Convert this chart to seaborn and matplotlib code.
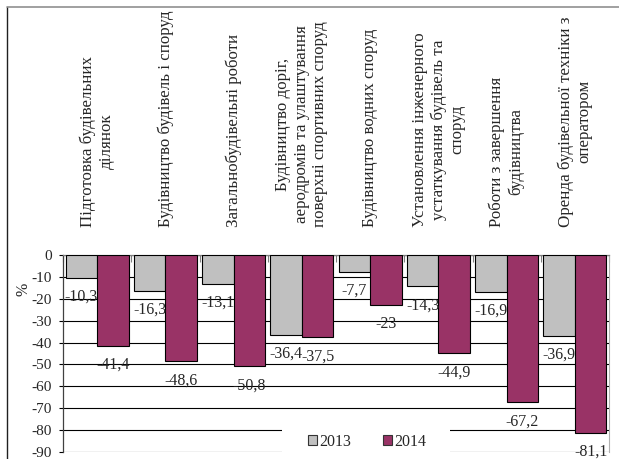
import matplotlib
matplotlib.use("Agg")
import matplotlib.pyplot as plt
import matplotlib.transforms as mtransforms
from matplotlib.patches import Rectangle, Patch
from matplotlib.lines import Line2D
import seaborn as sns
import pandas as pd

categories = [
    "Підготовка будівельних\nділянок",
    "Будівництво будівель і споруд",
    "Загальнобудівельні роботи",
    "Будівництво доріг,\nаеродромів та улаштування\nповерхні спортивних споруд",
    "Будівництво водних споруд",
    "Установлення інженерного\nустаткування будівель та\nспоруд",
    "Роботи з завершення\nбудівництва",
    "Оренда будівельної техніки з\nоператором",
]
values_2013 = [-10.3, -16.3, -13.1, -36.4, -7.7, -14.3, -16.9, -36.9]
values_2014 = [-41.4, -48.6, -50.8, -37.5, -23.0, -44.9, -67.2, -81.1]
series_names = ["2013", "2014"]
y_ticks = [0, -10, -20, -30, -40, -50, -60, -70, -80, -90]

sns.set_style("white")
plt.rcParams["font.family"] = ["Liberation Serif", "DejaVu Serif"]
plt.rcParams["axes.unicode_minus"] = False

df = pd.DataFrame({
    "cat": categories * 2,
    "year": [series_names[0]] * len(categories) + [series_names[1]] * len(categories),
    "value": values_2013 + values_2014,
})

W, H = 619, 459
fig = plt.figure(figsize=(W / 100, H / 100), dpi=100)
ax = fig.add_axes([63 / W, 7 / H, 546 / W, 197 / H])

palette = {"2013": "#C0C0C0", "2014": "#993366"}
sns.barplot(data=df, x="cat", y="value", hue="year", palette=palette,
            width=0.92, gap=0, edgecolor="black", linewidth=0.8,
            saturation=1, ax=ax, legend=False, zorder=3)

ax.set_ylim(-90, 0)
ax.set_xlim(-0.5, len(categories) - 0.5)
ax.set_yticks(y_ticks)
ax.set_yticklabels([str(t) for t in y_ticks], fontsize=11)
ax.set_xlabel("")
ax.set_ylabel("")
ax.set_axisbelow(True)
ax.yaxis.grid(True, color="black", linewidth=0.8)
ax.tick_params(axis="y", direction="out", length=3, width=0.8, pad=5, left=True, color="black")

# x-axis at top (zero line) with ticks at category boundaries
ax.xaxis.tick_top()
ax.set_xticks([i - 0.5 for i in range(len(categories) + 1)])
ax.set_xticklabels([])
ax.tick_params(axis="x", direction="in", length=5, width=0.8, color="#808080", top=True, bottom=False)

ax.spines["bottom"].set_visible(False)
ax.spines["top"].set_color("#808080")
ax.spines["top"].set_linewidth(0.9)
ax.spines["right"].set_color("#B0B0B0")
ax.spines["right"].set_linewidth(0.8)
ax.spines["left"].set_color("#404040")
ax.spines["left"].set_linewidth(0.9)

# data labels
def fmt(v):
    return ("%g" % v).replace(".", ",")

for cont, vals in zip(ax.containers, [values_2013, values_2014]):
    ax.bar_label(cont, labels=[fmt(v) for v in vals], padding=8, fontsize=11.5, zorder=6)

# category labels above the plot
trans = mtransforms.blended_transform_factory(ax.transData, fig.transFigure)
for i, c in enumerate(categories):
    ax.text(i, 1 - 227 / H, c, rotation=90, ha="center", va="bottom",
            multialignment="center", fontsize=12.2, transform=trans,
            linespacing=1.2, clip_on=False)

fig.text(23 / W, 1 - 289 / H, "%", rotation=90, ha="center", va="center", fontsize=11.5)

# white mask behind legend
mask = Rectangle((282 / W, 4 / H), 168 / W, 28 / H, transform=fig.transFigure,
                 facecolor="white", edgecolor="none", zorder=4)
ax.add_patch(mask)
mask.set_clip_on(False)

handles = [Patch(facecolor=palette[n], edgecolor="#333333", linewidth=0.8) for n in series_names]
leg = ax.legend(handles, series_names, loc="center", bbox_to_anchor=(367 / W, 1 - 442 / H),
                bbox_transform=fig.transFigure, ncol=2, frameon=False, fontsize=11.5,
                handlelength=0.6, handleheight=0.6, handletextpad=0.1,
                columnspacing=2.0, borderpad=0.2)
leg.set_zorder(7)

# outer border of the figure
fig.add_artist(Line2D([7 / W, 7 / W], [0, 1 - 7 / H], transform=fig.transFigure,
                      color="#202020", linewidth=1.0))
fig.add_artist(Line2D([7 / W, 1], [1 - 7 / H, 1 - 7 / H], transform=fig.transFigure,
                      color="#909090", linewidth=1.2))

fig.savefig("out.png", dpi=100)
